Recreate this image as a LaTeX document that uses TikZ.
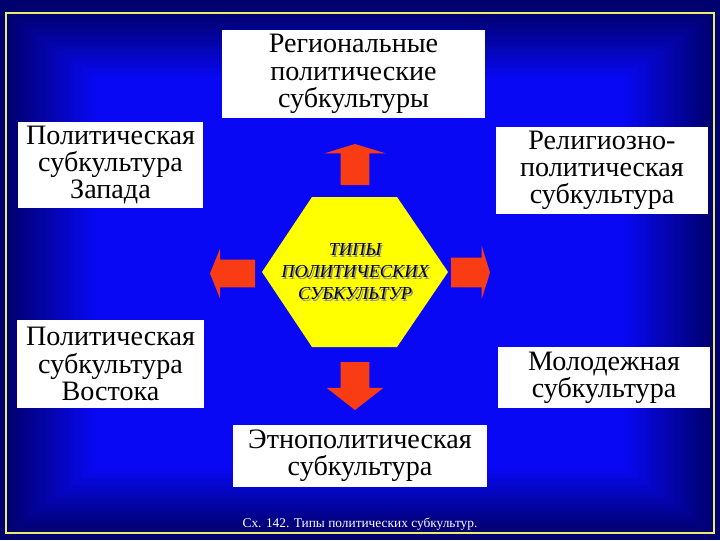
\documentclass[tikz,border=0pt]{standalone}
\usepackage{fontspec}
\setmainfont{Liberation Serif}
\usetikzlibrary{shapes.arrows,positioning}
\definecolor{slidenavy}{RGB}{0,0,110}
\definecolor{slideblue}{RGB}{8,8,245}
\definecolor{frameyellow}{RGB}{235,235,110}
\definecolor{arrowred}{RGB}{250,60,20}
\definecolor{hexyellow}{RGB}{255,255,0}
\tikzset{
  subbox/.style={fill=white, align=center, inner sep=0pt, font=\fontsize{20}{19.4}\selectfont},
  blockarrow/.style={single arrow, fill=arrowred, outer sep=0pt, anchor=tail},
  hextext/.style={align=center, font=\fontsize{13}{15.6}\selectfont\itshape}
}
\begin{document}
\begin{tikzpicture}[x=0.025cm,y=-0.025cm]
\useasboundingbox (0,0) rectangle (720,540);
% Slide background
\fill[slidenavy] (0,0) rectangle (720,540);
\foreach \i in {0,...,25}{
  \pgfmathsetmacro\pct{4*\i}
  \fill[slideblue!\pct!slidenavy] (6+3.6*\i,13+2.6*\i) rectangle (714-3.6*\i,533-2.6*\i);
}
\draw[frameyellow, line width=0.05cm] (6,13) rectangle (714,533);
% Central hexagon
\fill[hexyellow] (312,197) -- (397,197) -- (448,272) -- (397,347) -- (312,347) -- (262,272) -- cycle;
\node[hextext, black!45] (hexshade) at (356.5,273.5) {ТИПЫ\\ПОЛИТИЧЕСКИХ\\СУБКУЛЬТУР};
\node[hextext, black] (hex) at (355,272) {ТИПЫ\\ПОЛИТИЧЕСКИХ\\СУБКУЛЬТУР};
% Subculture boxes
\node[subbox, minimum width=6.575cm, minimum height=2.2cm] (regional) at (353.5,74) {Региональные\\политические\\субкультуры};
\node[subbox, minimum width=4.625cm, minimum height=2.15cm] (west) at (110.5,165) {Политическая\\субкультура\\Запада};
\node[subbox, minimum width=5.275cm, minimum height=2.175cm] (religious) at (602,170.5) {Религиозно-\\политическая\\субкультура};
\node[subbox, minimum width=4.675cm, minimum height=2.2cm] (east) at (110.5,364) {Политическая\\субкультура\\Востока};
\node[subbox, minimum width=5.3cm, minimum height=1.525cm] (youth) at (604,377.5) {Молодежная\\субкультура};
\node[subbox, minimum width=6.35cm, minimum height=1.55cm] (ethno) at (360,456) {Этнополитическая\\субкультура};
% Block arrows from the hexagon
\node[blockarrow, shape border rotate=90, minimum height=1.025cm, inner xsep=0.35cm, inner ysep=0pt,
  single arrow head extend=0.4cm, single arrow tip angle=146] (arrup) at (355,185) {};
\node[blockarrow, shape border rotate=0, minimum height=0.975cm, inner xsep=0pt, inner ysep=0.3625cm,
  single arrow head extend=0.2875cm, single arrow tip angle=145] (arrright) at (451,272.5) {};
\node[blockarrow, shape border rotate=180, minimum height=1.125cm, inner xsep=0pt, inner ysep=0.3375cm,
  single arrow head extend=0.2875cm, single arrow tip angle=136] (arrleft) at (255,273.5) {};
\node[blockarrow, shape border rotate=270, minimum height=1.2cm, inner xsep=0.35cm, inner ysep=0pt,
  single arrow head extend=0.35cm, single arrow tip angle=104] (arrdown) at (355,362) {};
% Caption
\node[white, font=\fontsize{9.5}{12}\selectfont, inner sep=0pt] (caption) at (360,524) {Сх. 142. Типы политических субкультур.};
\end{tikzpicture}
\end{document}
